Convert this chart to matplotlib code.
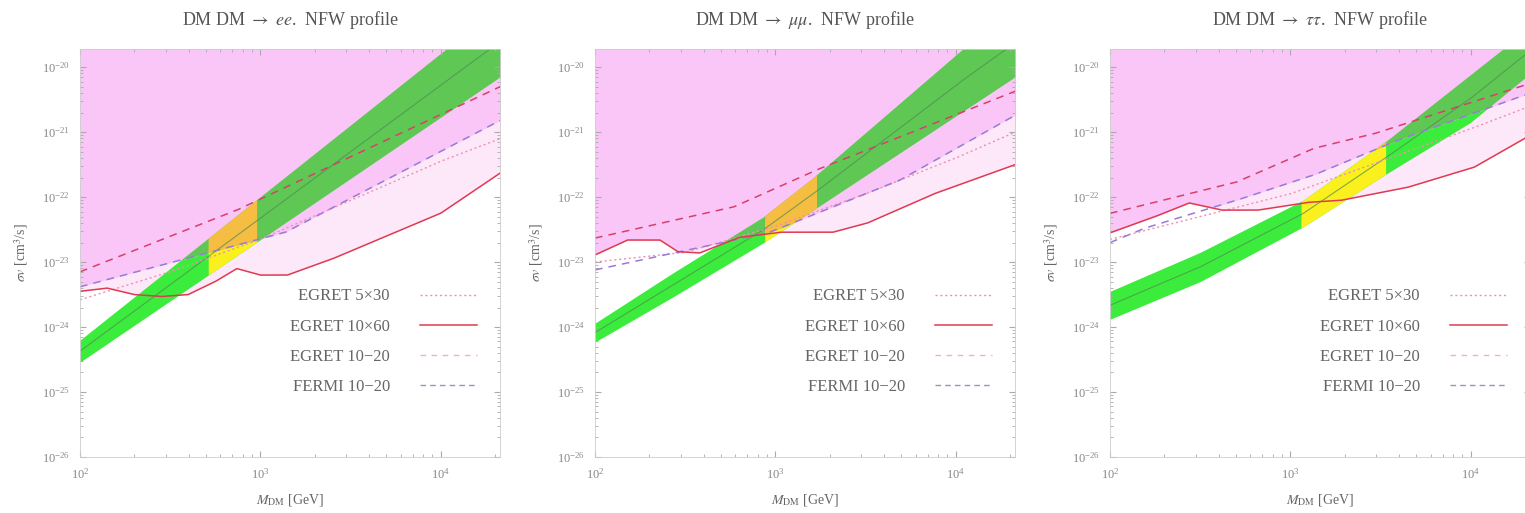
import numpy as np
import matplotlib.pyplot as plt
from matplotlib.lines import Line2D
from matplotlib.ticker import LogLocator, NullFormatter

plt.rcParams['font.family'] = ['Liberation Serif', 'DejaVu Serif']
plt.rcParams['mathtext.fontset'] = 'stix'

# all values are log10(M_DM / GeV) and log10(sigma v / cm^3 s^-1)
titles = [r'DM DM $\rightarrow$ $ee$.  NFW profile',
          r'DM DM $\rightarrow$ $\mu\mu$.  NFW profile',
          r'DM DM $\rightarrow$ $\tau\tau$.  NFW profile']

# EGRET 10x60 (solid)
ee_solid_m = [2.0, 2.15, 2.3, 2.45, 2.6, 2.75, 2.87, 3.0, 3.15, 3.4, 3.7, 4.0, 4.33]
ee_solid_s = [-23.45, -23.4, -23.5, -23.53, -23.5, -23.3, -23.1, -23.2, -23.2, -22.95, -22.6, -22.25, -21.63]
mm_solid_m = [2.0, 2.18, 2.36, 2.46, 2.58, 2.8, 3.03, 3.32, 3.51, 3.88, 4.33]
mm_solid_s = [-22.89, -22.66, -22.66, -22.84, -22.86, -22.62, -22.54, -22.54, -22.4, -21.95, -21.5]
tt_solid_m = [2.0, 2.25, 2.44, 2.62, 2.82, 3.1, 3.28, 3.65, 4.02, 4.33]
tt_solid_s = [-22.55, -22.3, -22.09, -22.2, -22.2, -22.08, -22.05, -21.85, -21.54, -21.05]

# EGRET 10-20 (upper dashed)
ee_e1020_m = [2.0, 2.87, 4.33]
ee_e1020_s = [-23.15, -22.2, -20.3]
mm_e1020_m = [2.0, 2.77, 3.23, 4.33]
mm_e1020_s = [-22.63, -22.15, -21.58, -20.37]
tt_e1020_m = [2.0, 2.7, 3.13, 3.47, 4.33]
tt_e1020_s = [-22.25, -21.77, -21.25, -21.02, -20.25]

# FERMI 10-20 (dashed)
ee_fermi_m = [2.0, 3.14, 4.33]
ee_fermi_s = [-23.38, -22.54, -20.82]
mm_fermi_m = [2.0, 2.96, 3.69, 4.33]
mm_fermi_s = [-23.12, -22.55, -21.74, -20.74]
tt_fermi_m = [2.0, 2.19, 2.7, 3.13, 3.6, 4.33]
tt_fermi_s = [-22.7, -22.48, -22.05, -21.66, -21.12, -20.4]

# EGRET 5x30 (dotted)
ee_e530_m = [2.0, 2.5, 3.0, 3.5, 4.0, 4.33]
ee_e530_s = [-23.58, -23.15, -22.65, -22.05, -21.45, -21.1]
mm_e530_m = [2.0, 2.5, 3.0, 3.5, 4.0, 4.33]
mm_e530_s = [-23.0, -22.85, -22.45, -21.95, -21.4, -21.0]
tt_e530_m = [2.0, 2.5, 3.0, 3.5, 4.0, 4.33]
tt_e530_s = [-22.65, -22.3, -21.95, -21.45, -20.95, -20.6]

# PAMELA band, lower and upper edge
ee_lo_m = [2.0, 4.33]
ee_lo_s = [-24.54, -20.15]
ee_hi_m = [2.0, 4.33]
ee_hi_s = [-24.2, -19.06]
mm_lo_m = [2.0, 2.43, 2.93, 3.21, 4.33]
mm_lo_s = [-24.23, -23.54, -22.71, -22.2, -20.15]
mm_hi_m = [2.0, 2.43, 2.93, 3.21, 4.04, 4.33]
mm_hi_s = [-23.94, -23.17, -22.31, -21.7, -19.72, -19.1]
tt_lo_m = [2.0, 2.5, 3.07, 3.54, 4.0, 4.33]
tt_lo_s = [-23.88, -23.3, -22.46, -21.63, -20.85, -20.1]
tt_hi_m = [2.0, 2.5, 3.07, 3.54, 4.18, 4.33]
tt_hi_s = [-23.45, -22.85, -22.05, -21.12, -19.72, -19.4]

# mass range where the band also fits FERMI (yellow)
ee_yellow = [2.71, 2.98]
mm_yellow = [2.94, 3.23]
tt_yellow = [3.06, 3.53]

panels = [
    (ee_solid_m, ee_solid_s, ee_e1020_m, ee_e1020_s, ee_fermi_m, ee_fermi_s,
     ee_e530_m, ee_e530_s, ee_lo_m, ee_lo_s, ee_hi_m, ee_hi_s, ee_yellow),
    (mm_solid_m, mm_solid_s, mm_e1020_m, mm_e1020_s, mm_fermi_m, mm_fermi_s,
     mm_e530_m, mm_e530_s, mm_lo_m, mm_lo_s, mm_hi_m, mm_hi_s, mm_yellow),
    (tt_solid_m, tt_solid_s, tt_e1020_m, tt_e1020_s, tt_fermi_m, tt_fermi_s,
     tt_e530_m, tt_e530_s, tt_lo_m, tt_lo_s, tt_hi_m, tt_hi_s, tt_yellow),
]

PINK = '#f9c6f7'
LPINK = '#fde8fa'
GREEN, GREEN_DEEP = '#3cec3c', '#5fc855'
YELLOW, YELLOW_DEEP = '#faf01e', '#f5be42'

XMIN, XMAX = 2.0, 4.33
YMIN, YMAX = -26.0, -19.72


def piece(ax, x, lo, hi, floor, ceil, color, mask):
    a = np.clip(lo, floor, ceil)
    b = np.clip(hi, floor, ceil)
    ax.fill_between(10**x, 10**a, 10**b, where=(b > a) & mask,
                    color=color, lw=0, interpolate=True)


def draw_band(ax, x, lo, hi, deep, col, col_deep, mask):
    piece(ax, x, lo, hi, -40, deep, col, mask)
    piece(ax, x, lo, hi, deep, -10, col_deep, mask)


def draw_panel(ax, title, d):
    (sm, ss, em, es, fm, fs, pm, ps, lm, ls, hm, hs, yel) = d
    x = np.linspace(XMIN, XMAX + 0.05, 1500)
    solid = np.interp(x, sm, ss)
    e1020 = np.interp(x, em, es)
    fermi = np.interp(x, fm, fs)
    e530 = np.interp(x, pm, ps)
    lo = np.interp(x, lm, ls)
    hi = np.interp(x, hm, hs)
    deep = np.maximum(solid, fermi)

    ax.fill_between(10**x, 10**solid, 10**-19, color=LPINK, lw=0)
    ax.fill_between(10**x, 10**deep, 10**-19, color=PINK, lw=0)

    allx = np.ones_like(x, dtype=bool)
    draw_band(ax, x, lo, hi, deep, GREEN, GREEN_DEEP, allx)
    ym = (x >= yel[0]) & (x <= yel[1])
    draw_band(ax, x, lo, hi, deep, YELLOW, YELLOW_DEEP, ym)
    ax.plot(10**x, 10**((lo + hi) / 2), color='#4f8a4f', lw=0.8, alpha=0.7)

    ax.plot(10**x, 10**e530, color='#f090b0', lw=1.0, ls=(0, (1.5, 2)))
    ax.plot(10**x, 10**fermi, color='#9a7ad8', lw=1.1, ls=(0, (5, 4)))
    ax.plot(10**x, 10**e1020, color='#d8406a', lw=1.1, ls=(0, (5, 4)))
    ax.plot(10**x, 10**solid, color='#e03a50', lw=1.1)

    ax.set_xscale('log')
    ax.set_yscale('log')
    ax.set_xlim(10**XMIN, 10**XMAX)
    ax.set_ylim(10**YMIN, 10**YMAX)
    ax.set_xticks([1e2, 1e3, 1e4])
    ax.set_yticks([10.0**k for k in range(-26, -19)])
    ax.xaxis.set_minor_locator(LogLocator(base=10, subs=np.arange(2, 10), numticks=20))
    ax.yaxis.set_minor_locator(LogLocator(base=10, subs=np.arange(2, 10), numticks=20))
    ax.xaxis.set_minor_formatter(NullFormatter())
    ax.yaxis.set_minor_formatter(NullFormatter())
    ax.set_title(title, fontsize=13, color='#555555', pad=17)
    ax.set_xlabel(r'$M_{\rm DM}$ [GeV]', fontsize=10, color='#666666', labelpad=8)
    ax.set_ylabel(r'$\sigma v$ [cm$^3$/s]', fontsize=10, color='#666666', labelpad=9)
    ax.tick_params(which='both', direction='in', colors='#aaaaaa', labelcolor='#888888',
                   labelsize=9, top=True, right=True)
    ax.tick_params(which='major', length=4, pad=7)
    ax.tick_params(which='minor', length=2)
    for s in ax.spines.values():
        s.set_color('#cccccc')
        s.set_linewidth(0.6)

    handles = [Line2D([], [], color='#f090b0', lw=1.0, ls=(0, (1.5, 2))),
               Line2D([], [], color='#e03a50', lw=1.1),
               Line2D([], [], color='#f0b0c8', lw=1.0, ls=(0, (4, 4))),
               Line2D([], [], color='#a090c0', lw=1.0, ls=(0, (4, 3)))]
    labels = ['EGRET 5×30', 'EGRET 10×60', 'EGRET 10−20', 'FERMI 10−20']
    leg = ax.legend(handles, labels, loc='upper right', bbox_to_anchor=(0.98, 0.45),
                    frameon=False, markerfirst=False, fontsize=12,
                    handlelength=3.4, handletextpad=1.8, labelspacing=0.85)
    for t in leg.get_texts():
        t.set_color('#666666')


fig = plt.figure(figsize=(15.25, 5.13), dpi=100)
lefts = [80, 595, 1110]
for i in range(3):
    ax = fig.add_axes([lefts[i] / 1525, 1 - 457 / 513, 420 / 1525, 408 / 513])
    draw_panel(ax, titles[i], panels[i])

fig.savefig('out.png', dpi=100)
